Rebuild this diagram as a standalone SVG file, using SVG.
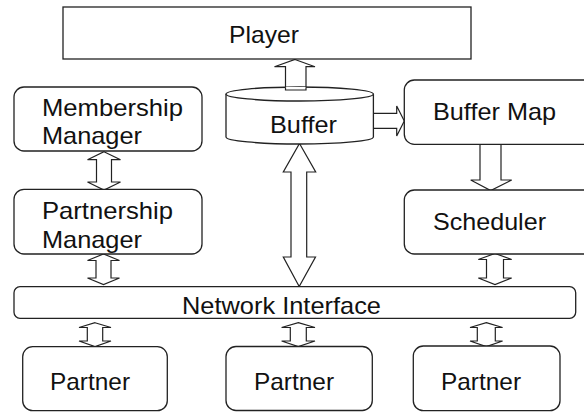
<svg xmlns="http://www.w3.org/2000/svg" width="584" height="412" viewBox="0 0 584 412">
<style>
.box{fill:#fff;stroke:#222;stroke-width:1.3}
.arr{fill:#fff;stroke:#222;stroke-width:1.2;stroke-linejoin:miter}
.t{font-family:"Liberation Sans",Arial,sans-serif;font-size:24px;fill:#111}
</style>
<rect width="584" height="412" fill="#fff"/>
<g id="connectors">
<polygon class="arr" points="295,59.5 315,66.7 306,66.7 306,90 285.5,90 285.5,66.7 274.5,66.7"/>
<polygon class="arr" points="373,113.3 396.7,113.3 396.7,106 404.3,121 396.7,136 396.7,128.3 373,128.3"/>
<polygon class="arr" points="480,144.3 501,144.3 501,180 511.7,180 490.7,190.5 470.7,180 480,180"/>
<polygon class="arr" points="299.5,143.5 315.7,172 306.7,172 306.7,257 315.5,257 299.2,286.5 283.3,257 291,257 291,172 283.3,172"/>
<polygon class="arr" points="104,151.7 120.5,159.7 111.5,159.7 111.5,182 120.5,182 104,190 87.5,182 96.5,182 96.5,159.7 87.5,159.7"/>
<polygon class="arr" points="103.5,254 119.5,260.5 111,260.5 111,278 119.5,278 103.5,284.5 87.5,278 96,278 96,260.5 87.5,260.5"/>
<polygon class="arr" points="95,322.7 111,327.5 102.7,327.5 102.7,341 111,341 95,346.5 79,341 87.3,341 87.3,327.5 79,327.5"/>
<polygon class="arr" points="298.3,322.7 315,327.5 306.3,327.5 306.3,341 315,341 298.3,346.5 281.6,341 290.3,341 290.3,327.5 281.6,327.5"/>
<polygon class="arr" points="486.3,322.7 502.6,327.5 495.3,327.5 495.3,341 502.6,341 486.3,346.5 470,341 477.3,341 477.3,327.5 470,327.5"/>
<polygon class="arr" points="495,253.5 511.7,259.5 503.5,259.5 503.5,278 511.7,278 495,284.5 478.3,278 486.5,278 486.5,259.5 478.3,259.5"/>
</g>
<g id="player">
<rect class="box" x="63" y="7" width="408" height="52"/>
<text class="t" x="229" y="43" textLength="70" lengthAdjust="spacingAndGlyphs">Player</text>
</g>
<g id="buffer">
<path class="box" d="M226,94 L226,137 A73.7,7 0 0 0 373.4,137 L373.4,94"/>
<ellipse class="box" cx="299.7" cy="94" rx="73.7" ry="7"/>
<polygon class="arr" points="285.5,87 306,87 306,90 285.5,90" style="stroke:none"/>
<path d="M285.5,87.3 L285.5,90 L306,90 L306,87.3" fill="none" stroke="#222" stroke-width="1.2"/>
<text class="t" x="270" y="133" textLength="67" lengthAdjust="spacingAndGlyphs">Buffer</text>
</g>
<g id="membership">
<rect class="box" x="14" y="87" width="188" height="64" rx="10"/>
<text class="t" x="42" y="116" textLength="141" lengthAdjust="spacingAndGlyphs">Membership</text>
<text class="t" x="42" y="144" textLength="100" lengthAdjust="spacingAndGlyphs">Manager</text>
</g>
<g id="partnership">
<rect class="box" x="14" y="189.3" width="188" height="64.7" rx="10"/>
<text class="t" x="42" y="219" textLength="131" lengthAdjust="spacingAndGlyphs">Partnership</text>
<text class="t" x="42" y="248" textLength="100" lengthAdjust="spacingAndGlyphs">Manager</text>
</g>
<g id="buffermap">
<rect class="box" x="404.3" y="80" width="190" height="64.3" rx="10"/>
<text class="t" x="433" y="120" textLength="123" lengthAdjust="spacingAndGlyphs">Buffer Map</text>
</g>
<g id="scheduler">
<rect class="box" x="404.3" y="190" width="190" height="64" rx="10"/>
<text class="t" x="433" y="230" textLength="113" lengthAdjust="spacingAndGlyphs">Scheduler</text>
</g>
<g id="network">
<rect class="box" x="14" y="286.7" width="561.7" height="31.6" rx="6"/>
<text class="t" x="182" y="314" textLength="199" lengthAdjust="spacingAndGlyphs">Network Interface</text>
</g>
<g id="partner1">
<rect class="box" x="22.7" y="346.7" width="144.6" height="64" rx="10"/>
<text class="t" x="50" y="390" textLength="80" lengthAdjust="spacingAndGlyphs">Partner</text>
</g>
<g id="partner2">
<rect class="box" x="226" y="346.5" width="146.3" height="64" rx="10"/>
<text class="t" x="254" y="390" textLength="80" lengthAdjust="spacingAndGlyphs">Partner</text>
</g>
<g id="partner3">
<rect class="box" x="413.3" y="346" width="146.7" height="64.7" rx="10"/>
<text class="t" x="441" y="390" textLength="80" lengthAdjust="spacingAndGlyphs">Partner</text>
</g>
</svg>
